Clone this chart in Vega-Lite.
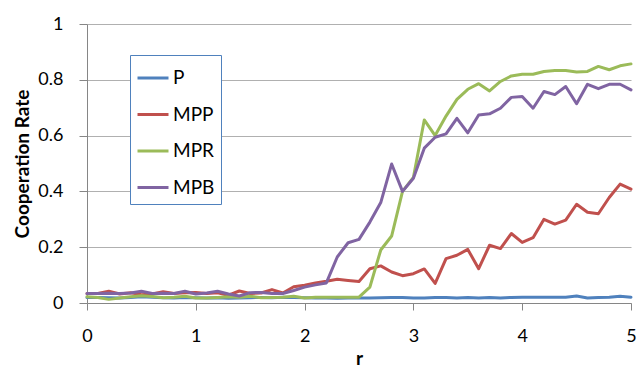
{
  "$schema": "https://vega.github.io/schema/vega-lite/v6.json",
  "width": 544,
  "height": 279,
  "autosize": {"type": "none"},
  "padding": {"left": 87, "top": 24, "right": 9, "bottom": 71},
  "background": "white",
  "config": {
    "font": "Lato",
    "view": {"stroke": null},
    "axis": {"labelFont": "Lato", "labelFontSize": 18, "labelColor": "#000000", "titleFont": "Lato", "titleFontSize": 19, "titleFontWeight": "bold", "titleColor": "#000000", "domainColor": "#868686", "tickColor": "#868686", "gridColor": "#b0b0b0", "domainWidth": 1, "tickWidth": 1, "gridWidth": 1}
  },
  "data": {
    "values": [
      {"r": 0.0, "P": 0.02, "MPP": 0.034, "MPR": 0.022, "MPB": 0.034},
      {"r": 0.1, "P": 0.02, "MPP": 0.034, "MPR": 0.02, "MPB": 0.034},
      {"r": 0.2, "P": 0.019, "MPP": 0.042, "MPR": 0.013, "MPB": 0.035},
      {"r": 0.3, "P": 0.018, "MPP": 0.032, "MPR": 0.018, "MPB": 0.034},
      {"r": 0.4, "P": 0.02, "MPP": 0.037, "MPR": 0.022, "MPB": 0.036},
      {"r": 0.5, "P": 0.022, "MPP": 0.03, "MPR": 0.026, "MPB": 0.042},
      {"r": 0.6, "P": 0.021, "MPP": 0.032, "MPR": 0.023, "MPB": 0.034},
      {"r": 0.7, "P": 0.019, "MPP": 0.04, "MPR": 0.019, "MPB": 0.035},
      {"r": 0.8, "P": 0.018, "MPP": 0.034, "MPR": 0.021, "MPB": 0.034},
      {"r": 0.9, "P": 0.02, "MPP": 0.037, "MPR": 0.024, "MPB": 0.042},
      {"r": 1.0, "P": 0.019, "MPP": 0.038, "MPR": 0.018, "MPB": 0.032},
      {"r": 1.1, "P": 0.018, "MPP": 0.034, "MPR": 0.018, "MPB": 0.036},
      {"r": 1.2, "P": 0.019, "MPP": 0.037, "MPR": 0.02, "MPB": 0.042},
      {"r": 1.3, "P": 0.017, "MPP": 0.028, "MPR": 0.022, "MPB": 0.032},
      {"r": 1.4, "P": 0.018, "MPP": 0.043, "MPR": 0.021, "MPB": 0.025},
      {"r": 1.5, "P": 0.019, "MPP": 0.034, "MPR": 0.024, "MPB": 0.037},
      {"r": 1.6, "P": 0.02, "MPP": 0.036, "MPR": 0.019, "MPB": 0.038},
      {"r": 1.7, "P": 0.019, "MPP": 0.048, "MPR": 0.02, "MPB": 0.034},
      {"r": 1.8, "P": 0.021, "MPP": 0.036, "MPR": 0.021, "MPB": 0.034},
      {"r": 1.9, "P": 0.02, "MPP": 0.058, "MPR": 0.024, "MPB": 0.045},
      {"r": 2.0, "P": 0.019, "MPP": 0.064, "MPR": 0.018, "MPB": 0.057},
      {"r": 2.1, "P": 0.018, "MPP": 0.072, "MPR": 0.021, "MPB": 0.065},
      {"r": 2.2, "P": 0.018, "MPP": 0.078, "MPR": 0.021, "MPB": 0.072},
      {"r": 2.3, "P": 0.017, "MPP": 0.085, "MPR": 0.021, "MPB": 0.165},
      {"r": 2.4, "P": 0.018, "MPP": 0.081, "MPR": 0.021, "MPB": 0.216},
      {"r": 2.5, "P": 0.018, "MPP": 0.077, "MPR": 0.021, "MPB": 0.228},
      {"r": 2.6, "P": 0.018, "MPP": 0.123, "MPR": 0.057, "MPB": 0.29},
      {"r": 2.7, "P": 0.019, "MPP": 0.133, "MPR": 0.19, "MPB": 0.36},
      {"r": 2.8, "P": 0.02, "MPP": 0.111, "MPR": 0.24, "MPB": 0.498},
      {"r": 2.9, "P": 0.02, "MPP": 0.098, "MPR": 0.4, "MPB": 0.4},
      {"r": 3.0, "P": 0.018, "MPP": 0.105, "MPR": 0.45, "MPB": 0.447},
      {"r": 3.1, "P": 0.018, "MPP": 0.122, "MPR": 0.656, "MPB": 0.555},
      {"r": 3.2, "P": 0.02, "MPP": 0.07, "MPR": 0.6, "MPB": 0.594},
      {"r": 3.3, "P": 0.02, "MPP": 0.159, "MPR": 0.67, "MPB": 0.606},
      {"r": 3.4, "P": 0.018, "MPP": 0.171, "MPR": 0.73, "MPB": 0.662},
      {"r": 3.5, "P": 0.02, "MPP": 0.192, "MPR": 0.766, "MPB": 0.61},
      {"r": 3.6, "P": 0.018, "MPP": 0.123, "MPR": 0.786, "MPB": 0.674},
      {"r": 3.7, "P": 0.02, "MPP": 0.207, "MPR": 0.76, "MPB": 0.678},
      {"r": 3.8, "P": 0.018, "MPP": 0.195, "MPR": 0.794, "MPB": 0.698},
      {"r": 3.9, "P": 0.02, "MPP": 0.249, "MPR": 0.814, "MPB": 0.737},
      {"r": 4.0, "P": 0.021, "MPP": 0.217, "MPR": 0.82, "MPB": 0.74},
      {"r": 4.1, "P": 0.021, "MPP": 0.234, "MPR": 0.82, "MPB": 0.698},
      {"r": 4.2, "P": 0.021, "MPP": 0.3, "MPR": 0.83, "MPB": 0.758},
      {"r": 4.3, "P": 0.021, "MPP": 0.283, "MPR": 0.833, "MPB": 0.747},
      {"r": 4.4, "P": 0.021, "MPP": 0.297, "MPR": 0.833, "MPB": 0.776},
      {"r": 4.5, "P": 0.025, "MPP": 0.354, "MPR": 0.828, "MPB": 0.714},
      {"r": 4.6, "P": 0.018, "MPP": 0.325, "MPR": 0.83, "MPB": 0.784},
      {"r": 4.7, "P": 0.02, "MPP": 0.32, "MPR": 0.848, "MPB": 0.768},
      {"r": 4.8, "P": 0.021, "MPP": 0.378, "MPR": 0.836, "MPB": 0.784},
      {"r": 4.9, "P": 0.024, "MPP": 0.426, "MPR": 0.85, "MPB": 0.784},
      {"r": 5.0, "P": 0.021, "MPP": 0.408, "MPR": 0.857, "MPB": 0.764}
    ]
  },
  "transform": [{"fold": ["P", "MPP", "MPR", "MPB"], "as": ["series", "value"]}],
  "mark": {"type": "line", "strokeWidth": 3, "strokeJoin": "round", "strokeCap": "round"},
  "encoding": {
    "x": {
      "field": "r", "type": "quantitative", "title": "r",
      "scale": {"domain": [0, 5], "nice": false, "zero": false},
      "axis": {"values": [0, 1, 2, 3, 4, 5], "format": "d", "grid": false, "tickSize": 7, "labelPadding": 17, "titlePadding": 4, "labelFlush": false}
    },
    "y": {
      "field": "value", "type": "quantitative", "title": "Cooperation Rate",
      "scale": {"domain": [0, 1], "nice": false},
      "axis": {"values": [0, 0.2, 0.4, 0.6, 0.8, 1], "format": "~g", "grid": true, "tickSize": 8, "labelPadding": 16, "titlePadding": 5, "labelFlush": false}
    },
    "color": {
      "field": "series", "type": "nominal",
      "scale": {"domain": ["P", "MPP", "MPR", "MPB"], "range": ["#4F81BD", "#C0504D", "#9BBB59", "#8064A2"]},
      "legend": {
        "title": null, "orient": "none", "legendX": 43, "legendY": 31,
        "symbolType": "stroke", "symbolSize": 961, "symbolStrokeWidth": 3,
        "labelFont": "Lato", "labelFontSize": 19, "labelColor": "#000000", "labelOffset": 3,
        "rowPadding": 9.5, "padding": 6,
        "strokeColor": "#4F81BD", "fillColor": "white"
      }
    }
  }
}
